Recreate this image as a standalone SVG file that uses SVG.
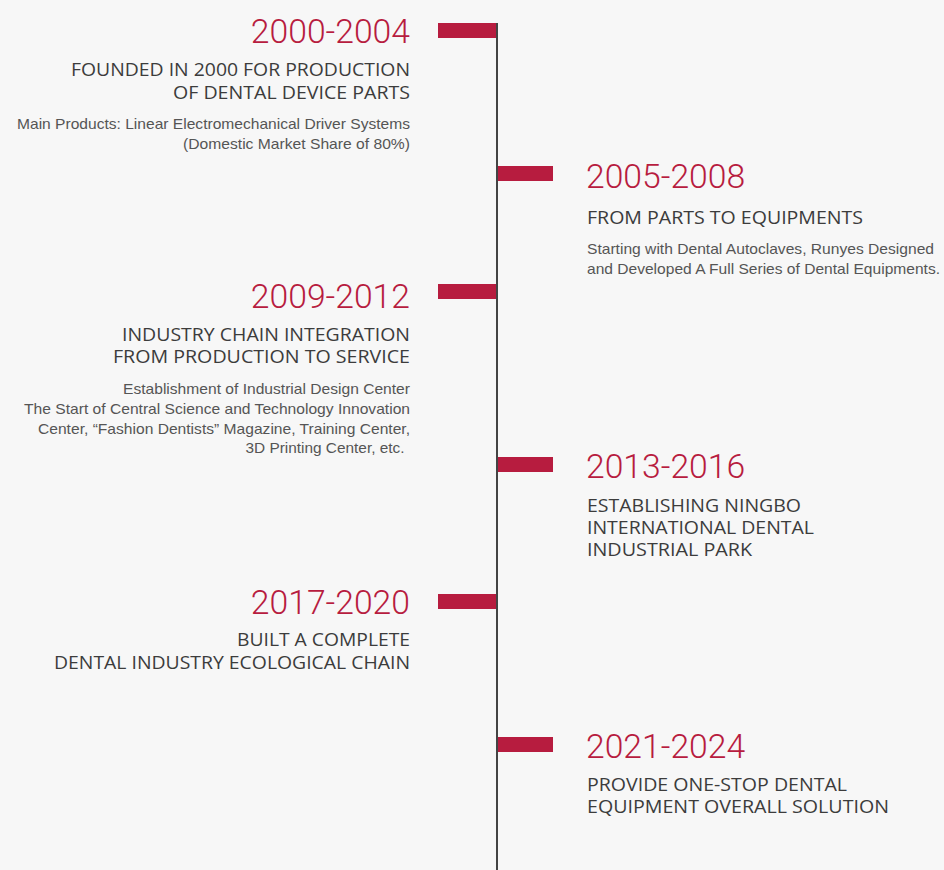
<svg xmlns="http://www.w3.org/2000/svg" width="944" height="870" viewBox="0 0 944 870">
<style>
.yr{font-family:Roboto,"Liberation Sans",sans-serif;font-weight:300;font-size:33.7px;fill:#b71c3f}
.hd{font-family:"Open Sans","Noto Sans",sans-serif;font-weight:500;font-size:19px;fill:#3c3c3c}
.bd{font-family:"Liberation Sans",Arial,sans-serif;font-size:14.6px;fill:#555}
.l{text-anchor:end}
.bar{fill:#b71c3f}
</style>
<rect width="944" height="870" fill="#f7f7f7"/>
<g id="connectors">
<rect x="496" y="23" width="2" height="847" fill="#444"/>
</g>
<g id="n2000">
<rect class="bar" x="438" y="23" width="58" height="15"/>
<text class="yr l" x="410" y="43">2000-2004</text>
<text class="hd l" x="410" y="76" textLength="339" lengthAdjust="spacingAndGlyphs">FOUNDED IN 2000 FOR PRODUCTION</text>
<text class="hd l" x="410" y="98.5" textLength="237" lengthAdjust="spacingAndGlyphs">OF DENTAL DEVICE PARTS</text>
<text class="bd l" x="410" y="128.5" textLength="393" lengthAdjust="spacingAndGlyphs">Main Products: Linear Electromechanical Driver Systems</text>
<text class="bd l" x="410" y="148.5" textLength="227" lengthAdjust="spacingAndGlyphs">(Domestic Market Share of 80%)</text>
</g>
<g id="n2005">
<rect class="bar" x="498" y="166" width="55" height="15"/>
<text class="yr" x="586" y="188">2005-2008</text>
<text class="hd" x="587" y="224" textLength="276" lengthAdjust="spacingAndGlyphs">FROM PARTS TO EQUIPMENTS</text>
<text class="bd" x="587" y="254" textLength="347" lengthAdjust="spacingAndGlyphs">Starting with Dental Autoclaves, Runyes Designed</text>
<text class="bd" x="587" y="274" textLength="353" lengthAdjust="spacingAndGlyphs">and Developed A Full Series of Dental Equipments.</text>
</g>
<g id="n2009">
<rect class="bar" x="438" y="284" width="58" height="15"/>
<text class="yr l" x="410" y="307.5">2009-2012</text>
<text class="hd l" x="410" y="341" textLength="288" lengthAdjust="spacingAndGlyphs">INDUSTRY CHAIN INTEGRATION</text>
<text class="hd l" x="410" y="363" textLength="297" lengthAdjust="spacingAndGlyphs">FROM PRODUCTION TO SERVICE</text>
<text class="bd l" x="410" y="393.5" textLength="287" lengthAdjust="spacingAndGlyphs">Establishment of Industrial Design Center</text>
<text class="bd l" x="410" y="413.5" textLength="386" lengthAdjust="spacingAndGlyphs">The Start of Central Science and Technology Innovation</text>
<text class="bd l" x="410" y="433.5" textLength="372" lengthAdjust="spacingAndGlyphs">Center, “Fashion Dentists” Magazine, Training Center,</text>
<text class="bd l" x="404.5" y="453" textLength="159" lengthAdjust="spacingAndGlyphs">3D Printing Center, etc.</text>
</g>
<g id="n2013">
<rect class="bar" x="498" y="457" width="55" height="15"/>
<text class="yr" x="586" y="478">2013-2016</text>
<text class="hd" x="587" y="512" textLength="214" lengthAdjust="spacingAndGlyphs">ESTABLISHING NINGBO</text>
<text class="hd" x="587" y="534" textLength="227" lengthAdjust="spacingAndGlyphs">INTERNATIONAL DENTAL</text>
<text class="hd" x="587" y="556" textLength="165" lengthAdjust="spacingAndGlyphs">INDUSTRIAL PARK</text>
</g>
<g id="n2017">
<rect class="bar" x="438" y="594" width="58" height="15"/>
<text class="yr l" x="410" y="613.5">2017-2020</text>
<text class="hd l" x="410" y="646" textLength="173" lengthAdjust="spacingAndGlyphs">BUILT A COMPLETE</text>
<text class="hd l" x="410" y="668.5" textLength="356" lengthAdjust="spacingAndGlyphs">DENTAL INDUSTRY ECOLOGICAL CHAIN</text>
</g>
<g id="n2021">
<rect class="bar" x="498" y="737" width="55" height="15"/>
<text class="yr" x="586" y="758">2021-2024</text>
<text class="hd" x="587" y="791" textLength="260" lengthAdjust="spacingAndGlyphs">PROVIDE ONE-STOP DENTAL</text>
<text class="hd" x="587" y="813" textLength="302" lengthAdjust="spacingAndGlyphs">EQUIPMENT OVERALL SOLUTION</text>
</g>
</svg>
